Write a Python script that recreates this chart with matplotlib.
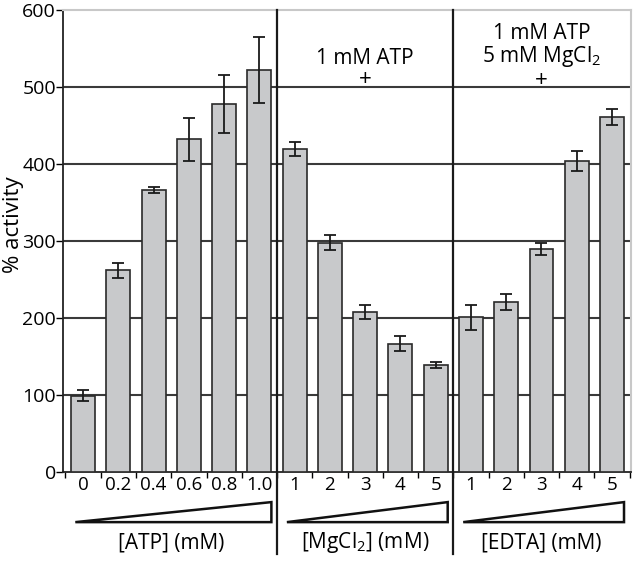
import matplotlib
matplotlib.use("Agg")
import matplotlib.pyplot as plt
import numpy as np

plt.rcParams['font.family'] = ['Open Sans', 'DejaVu Sans']
plt.rcParams['mathtext.fontset'] = 'custom'
plt.rcParams['mathtext.rm'] = 'Open Sans'
plt.rcParams['mathtext.default'] = 'regular'

# data
atp_labels = ['0', '0.2', '0.4', '0.6', '0.8', '1.0']
atp_vals = [99, 262, 366, 432, 478, 522]
atp_err = [7, 10, 4, 28, 38, 43]

mg_labels = ['1', '2', '3', '4', '5']
mg_vals = [420, 298, 208, 167, 139]
mg_err = [9, 10, 9, 10, 4]

edta_labels = ['1', '2', '3', '4', '5']
edta_vals = [201, 221, 290, 404, 461]
edta_err = [16, 10, 8, 13, 10]

group_names = ['[ATP] (mM)', '[MgCl$_2$] (mM)', '[EDTA] (mM)']
group_notes = [[], ['1 mM ATP', '+'], ['1 mM ATP', '5 mM MgCl$_2$', '+']]

groups = [(atp_labels, atp_vals, atp_err),
          (mg_labels, mg_vals, mg_err),
          (edta_labels, edta_vals, edta_err)]

fig = plt.figure(figsize=(6.33, 5.62), dpi=100)
ax = fig.add_axes([0.0995, 0.16, 0.898, 0.822])

labels, vals, errs = [], [], []
for g in groups:
    labels += g[0]
    vals += g[1]
    errs += g[2]
x = np.arange(len(vals))

ax.bar(x, vals, width=0.68, color='#c8c9cb', edgecolor='#2a2a2a', linewidth=1.2, zorder=3)
ax.errorbar(x, vals, yerr=errs, fmt='none', ecolor='#1a1a1a', elinewidth=1.3,
            capsize=4, capthick=1.3, zorder=4)

ax.set_xlim(-0.57, len(vals) - 0.45)
ax.set_ylim(0, 600)
ax.set_yticks(range(0, 601, 100))
ax.tick_params(axis='y', labelsize=14, length=5, width=1, direction='out', pad=0)
for yv in range(100, 600, 100):
    ax.axhline(yv, color='#3a3a3a', linewidth=1.5, zorder=1)

# labels at bar centers, small ticks between bars
ax.set_xticks(x)
ax.set_xticklabels(labels, fontsize=13.5)
ax.tick_params(axis='x', length=0, pad=3)
ax.set_xticks(np.arange(-0.5, len(vals), 1.0), minor=True)
ax.tick_params(axis='x', which='minor', length=4, width=1, direction='out')

for s in ['top', 'right']:
    ax.spines[s].set_color('#c8c8c8')
    ax.spines[s].set_linewidth(1.5)
for s in ['left', 'bottom']:
    ax.spines[s].set_color('#222222')
    ax.spines[s].set_linewidth(1.3)

ax.set_ylabel('% activity', fontsize=16)
ax.yaxis.set_label_coords(-0.068, 0.535)

# group dividers, triangles, names, notes
note_y = {2: [537, 510], 3: [570, 540, 508]}
start = 0
for i, (g, name, note) in enumerate(zip(groups, group_names, group_notes)):
    n = len(g[1])
    lo, hi = start - 0.22, start + n - 1 + 0.34
    tri_x = [lo, hi, hi, lo]
    tri_y = [-65, -39, -65, -65]
    ax.fill(tri_x, tri_y, facecolor='white', edgecolor='#111111', linewidth=1.8,
            clip_on=False, zorder=5)
    cx = start + (n - 1) / 2
    ax.text(cx, -92, name, ha='center', va='center', fontsize=15)
    if note:
        for line, yy in zip(note, note_y[len(note)]):
            fs = 16 if line == '+' else 15
            ax.text(cx, yy, line, ha='center', va='center', fontsize=fs)
    if i > 0:
        ax.plot([start - 0.5, start - 0.5], [-106, 600], color='#1a1a1a',
                linewidth=1.6, clip_on=False, zorder=6)
    start += n

fig.savefig('out.png', dpi=100)
